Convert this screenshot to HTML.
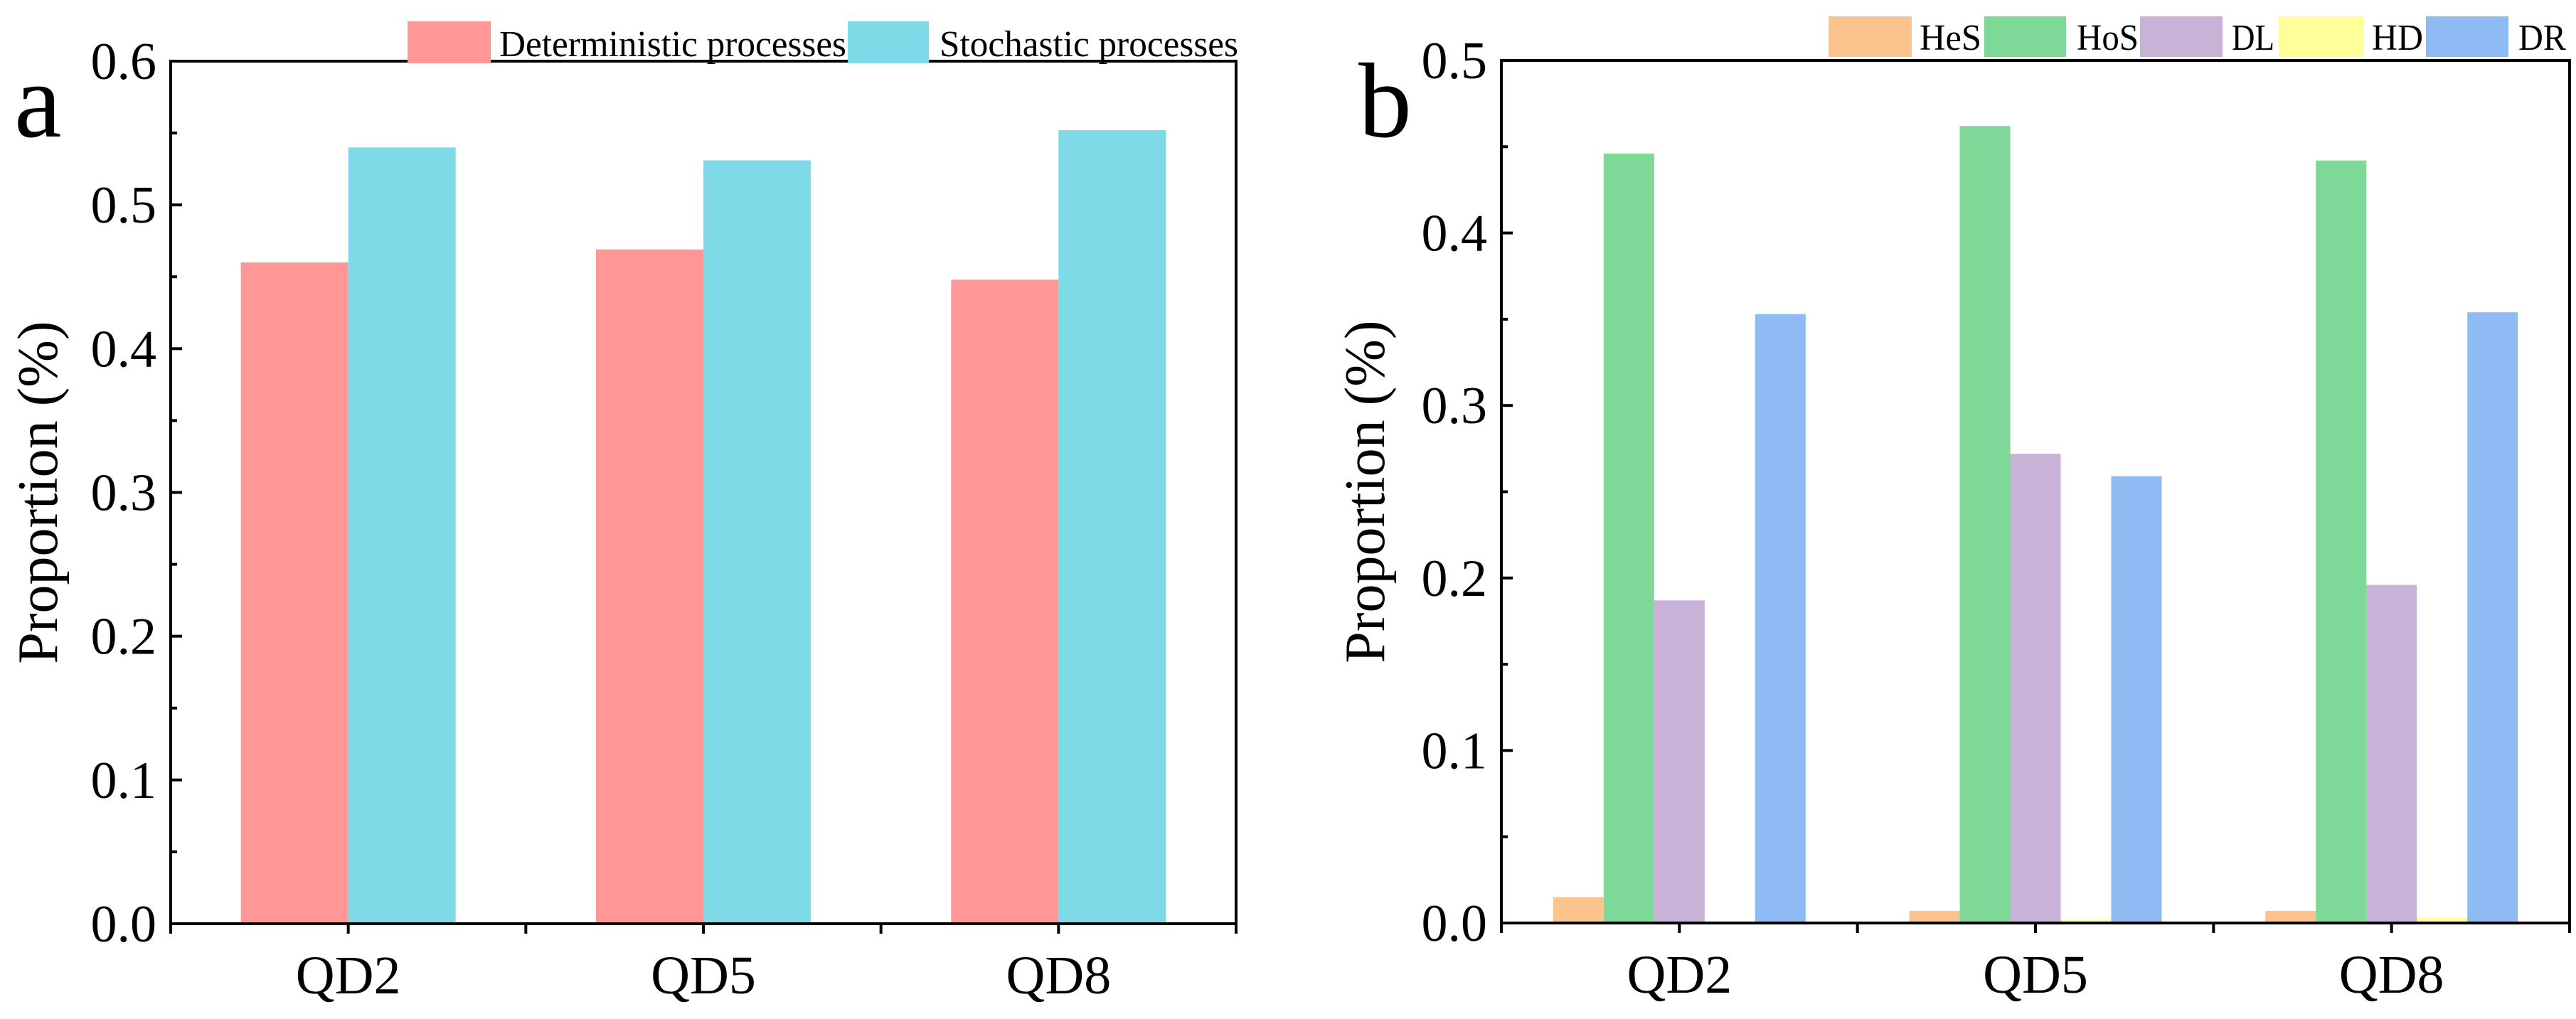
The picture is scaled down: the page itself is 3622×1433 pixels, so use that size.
<!DOCTYPE html>
<html><head><meta charset="utf-8"><style>
html,body{margin:0;padding:0;background:#fff;}
svg{display:block;font-family:"Liberation Serif","DejaVu Serif",serif;}
</style></head><body>
<svg id="fig" width="3622" height="1433" viewBox="0 0 3622 1433">
<g id="pa"></g>
<g id="pb"></g>
</svg>
<script>
const categories = ["QD2","QD5","QD8"];
const aSeriesNames = ["Deterministic processes","Stochastic processes"];
const aDeterministic = [0.460,0.469,0.448];
const aStochastic = [0.540,0.531,0.552];
const aTicks = ["0.0","0.1","0.2","0.3","0.4","0.5","0.6"];
const bSeriesNames = ["HeS","HoS","DL","HD","DR"];
const bHeS = [0.015,0.007,0.007];
const bHoS = [0.446,0.462,0.442];
const bDL = [0.187,0.272,0.196];
const bHD = [0.001,0.002,0.003];
const bDR = [0.353,0.259,0.354];
const bTicks = ["0.0","0.1","0.2","0.3","0.4","0.5"];

const NS="http://www.w3.org/2000/svg";
function mk(parent,tag,attrs,text){const e=document.createElementNS(NS,tag);for(const k in attrs)e.setAttribute(k,attrs[k]);if(text!==undefined)e.textContent=text;parent.appendChild(e);return e;}

function panel(g,cfg){
  const {L,R,T,B,ymax,ticks,series,colors,barW,letter,letterX,letterY,titleX,legend} = cfg;
  const n=categories.length, step=(R-L)/n;
  const xc=i=>L+step*(i+0.5);
  const y=v=>B-(v/ymax)*(B-T);
  series.forEach((vals,s)=>{
    vals.forEach((v,i)=>{
      const x0=xc(i)-barW*series.length/2+barW*s;
      const r=mk(g,'rect',{x:x0,y:y(v),width:barW,height:B-y(v),fill:colors[s]});
      
      
    });
  });
  const fr=mk(g,'rect',{x:L,y:T,width:R-L,height:B-T,fill:'none',stroke:'#000','stroke-width':4});
  
  
  const tv=ticks.map(Number);
  const maj=tv[1]-tv[0];
  for(let k=0;k<=Math.round(ymax/(maj/2));k++){
    const v=k*maj/2, isMaj=k%2===0;
    const t=mk(g,'line',{x1:L,x2:L+(isMaj?16:9),y1:y(v),y2:y(v),stroke:'#000','stroke-width':4});
    
    
  }
  ticks.forEach((lab,i)=>{
    const t=mk(g,'text',{x:L-20,y:y(tv[i])+25,'text-anchor':'end','font-size':74},lab);
    
    
  });
  for(let k=0;k<=2*n;k++){
    const x=L+step*k/2;
    const t=mk(g,'line',{x1:x,x2:x,y1:B,y2:B+14,stroke:'#000','stroke-width':4});
    
    
  }
  categories.forEach((c,i)=>{
    const t=mk(g,'text',{x:xc(i),y:B+98,'text-anchor':'middle','font-size':76},c);
    
    
  });
  const yt=mk(g,'text',{x:0,y:0,'text-anchor':'middle','font-size':80,transform:`translate(${titleX},${(T+B)/2}) rotate(-90)`},'Proportion (%)');
  
  
  const lt=mk(g,'text',{x:letterX,y:letterY,'font-size':150},letter);
  
  
  legend.forEach((e,s)=>{
    const r=mk(g,'rect',{x:e.rx,y:e.ry,width:e.rw,height:e.rh,fill:colors[s]});
    
    
    const t=mk(g,'text',{x:e.tx,y:e.ry+e.rh-10,'font-size':52,textLength:e.tw,lengthAdjust:'spacingAndGlyphs'},cfg.names[s]);
    
    
  });
}

panel(document.getElementById('pa'),{
  L:240,R:1738,T:86,B:1299,ymax:0.6,ticks:aTicks,
  series:[aDeterministic,aStochastic],names:aSeriesNames,
  colors:['#FE9796','#7DDAE6'],barW:151,
  letter:'a',letterX:20,letterY:192,titleX:80,
  legend:[{rx:573,ry:30,rw:117,rh:59,tx:702,tw:488},{rx:1192,ry:30,rw:114,rh:59,tx:1321,tw:420}]
});
panel(document.getElementById('pb'),{
  L:2111,R:3613,T:85,B:1298,ymax:0.5,ticks:bTicks,
  series:[bHeS,bHoS,bDL,bHD,bDR],names:bSeriesNames,
  colors:['#FCC48D','#7ED898','#C8B2D8','#FFFF99','#8EBBF4'],barW:71,
  letter:'b',letterX:1910,letterY:192,titleX:1946,
  legend:[{rx:2571,ry:23,rw:117,rh:57,tx:2699,tw:87},{rx:2790,ry:23,rw:115,rh:57,tx:2920,tw:87},
          {rx:3009,ry:23,rw:116,rh:57,tx:3138,tw:60},{rx:3204,ry:23,rw:119,rh:57,tx:3335,tw:72},
          {rx:3411,ry:23,rw:116,rh:57,tx:3541,tw:67}]
});
</script>
</body></html>
